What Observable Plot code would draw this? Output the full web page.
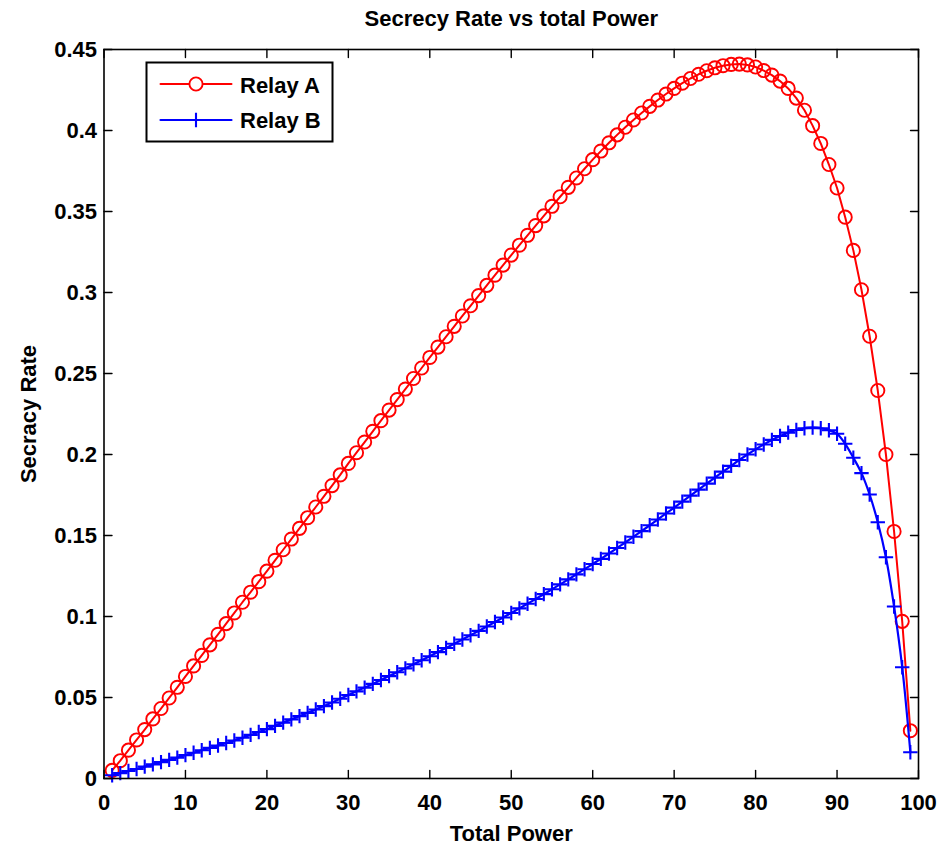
<!DOCTYPE html>
<html>
<head>
<meta charset="utf-8">
<script src="https://cdn.jsdelivr.net/npm/d3@7"></script>
<script src="https://cdn.jsdelivr.net/npm/@observablehq/plot@0.6"></script>
<style>
  html, body { margin: 0; padding: 0; background: #fff; }
  #chart { width: 943px; height: 846px; }
</style>
</head>
<body>
<div id="chart"></div>
<script>
const titleText = "Secrecy Rate vs total Power";
const xLabel = "Total Power";
const yLabel = "Secracy Rate";
const seriesNames = ["Relay A", "Relay B"];
const seriesColors = ["#ff0000", "#0000ff"];
const xDomain = [0, 100];
const yDomain = [0, 0.45];
const xTicks = [0, 10, 20, 30, 40, 50, 60, 70, 80, 90, 100];
const xTickLabels = ["0", "10", "20", "30", "40", "50", "60", "70", "80", "90", "100"];
const yTicks = [0, 0.05, 0.1, 0.15, 0.2, 0.25, 0.3, 0.35, 0.4, 0.45];
const yTickLabels = ["0", "0.05", "0.1", "0.15", "0.2", "0.25", "0.3", "0.35", "0.4", "0.45"];

const powerValues = [
  1,2,3,4,5,6,7,8,9,10,11,12,13,14,15,16,17,18,19,20,
  21,22,23,24,25,26,27,28,29,30,31,32,33,34,35,36,37,38,39,40,
  41,42,43,44,45,46,47,48,49,50,51,52,53,54,55,56,57,58,59,60,
  61,62,63,64,65,66,67,68,69,70,71,72,73,74,75,76,77,78,79,80,
  81,82,83,84,85,86,87,88,89,90,91,92,93,94,95,96,97,98,99
];

const relayA = [
  .0050,.0110,.0175,.0238,.0302,.0368,.0432,.0497,.0563,.0630,
  .0695,.0760,.0825,.0890,.0956,.1022,.1088,.1150,.1215,.1280,
  .1347,.1412,.1478,.1544,.1610,.1676,.1742,.1808,.1874,.1945,
  .2011,.2077,.2143,.2209,.2274,.2339,.2404,.2469,.2534,.2599,
  .2663,.2727,.2791,.2855,.2918,.2981,.3044,.3107,.3169,.3231,
  .3292,.3353,.3413,.3473,.3532,.3591,.3649,.3707,.3764,.3820,
  .3873,.3924,.3973,.4020,.4065,.4108,.4149,.4188,.4225,.4260,
  .4292,.4321,.4347,.4369,.4387,.4400,.4408,.4410,.4405,.4392,
  .4370,.4342,.4305,.4260,.4200,.4125,.4030,.3920,.3790,.3645,
  .3465,.3260,.3017,.2730,.2395,.2000,.1525,.0970,.0295
];

const relayB = [
  .0020,.0033,.0046,.0059,.0073,.0087,.0101,.0115,.0129,.0144,
  .0159,.0174,.0189,.0204,.0219,.0235,.0252,.0269,.0287,.0305,
  .0325,.0345,.0365,.0385,.0405,.0426,.0447,.0469,.0492,.0515,
  .0538,.0561,.0584,.0608,.0632,.0656,.0680,.0705,.0730,.0755,
  .0780,.0806,.0832,.0858,.0884,.0911,.0938,.0966,.0994,.1022,
  .1050,.1079,.1108,.1138,.1168,.1198,.1229,.1260,.1292,.1324,
  .1356,.1389,.1423,.1457,.1492,.1527,.1563,.1599,.1636,.1672,
  .1709,.1746,.1783,.1820,.1857,.1894,.1930,.1966,.2000,.2032,
  .2062,.2090,.2114,.2135,.2151,.2162,.2166,.2162,.2150,.2128,
  .2066,.1980,.1885,.1753,.1582,.1366,.1062,.0687,.0162
];

const dataA = powerValues.map((x, i) => ({x, y: relayA[i]}));
const dataB = powerValues.map((x, i) => ({x, y: relayB[i]}));

const lineShape = {draw(context, l) { context.moveTo(0, 0); context.lineTo(0, -l); }};
const plusSymbol = {draw(context, size) {
  const r = Math.sqrt(size / Math.PI);
  context.moveTo(-r, 0); context.lineTo(r, 0);
  context.moveTo(0, -r); context.lineTo(0, r);
}};

const font = "Liberation Sans, Arial, Helvetica, sans-serif";
const fs = 22;
const fw = "bold";
const tickLen = 8;

const chart = Plot.plot({
  width: 943,
  height: 846,
  marginLeft: 103.5,
  marginRight: 25,
  marginTop: 49,
  marginBottom: 68,
  style: {fontFamily: font, fontSize: fs + "px", background: "#fff", color: "#000", overflow: "visible"},
  x: {domain: xDomain, axis: null},
  y: {domain: yDomain, axis: null},
  marks: [
    // curves
    Plot.line(dataA, {x: "x", y: "y", stroke: seriesColors[0], strokeWidth: 2}),
    Plot.dot(dataA, {x: "x", y: "y", r: 6.6, stroke: seriesColors[0], strokeWidth: 1.9, fill: "none"}),
    Plot.line(dataB, {x: "x", y: "y", stroke: seriesColors[1], strokeWidth: 2.2, curve: "catmull-rom"}),
    Plot.dot(dataB, {x: "x", y: "y", symbol: plusSymbol, r: 7.2, stroke: seriesColors[1], strokeWidth: 2.1, fill: "none"}),
    // box
    Plot.frame({stroke: "#000", strokeWidth: 1.6}),
    // inward ticks
    Plot.vector(xTicks, {x: d => d, y: () => yDomain[0], length: tickLen, rotate: 0, anchor: "start", shape: lineShape, stroke: "#000", strokeWidth: 1.4}),
    Plot.vector(xTicks, {x: d => d, y: () => yDomain[1], length: tickLen, rotate: 180, anchor: "start", shape: lineShape, stroke: "#000", strokeWidth: 1.4}),
    Plot.vector(yTicks, {y: d => d, x: () => xDomain[0], length: tickLen, rotate: 90, anchor: "start", shape: lineShape, stroke: "#000", strokeWidth: 1.4}),
    Plot.vector(yTicks, {y: d => d, x: () => xDomain[1], length: tickLen, rotate: -90, anchor: "start", shape: lineShape, stroke: "#000", strokeWidth: 1.4}),
    // tick labels
    Plot.text(xTicks, {x: d => d, y: () => yDomain[0], text: (d, i) => xTickLabels[i], dy: 24, fontSize: fs, fontWeight: fw, fill: "#000"}),
    Plot.text(yTicks, {y: d => d, x: () => xDomain[0], text: (d, i) => yTickLabels[i], dx: -7, textAnchor: "end", fontSize: fs, fontWeight: fw, fill: "#000"}),
    // axis labels & title
    Plot.text([xLabel], {frameAnchor: "bottom", dy: 55, textAnchor: "middle", lineAnchor: "middle", fontSize: fs, fontWeight: fw, fill: "#000"}),
    Plot.text([yLabel], {frameAnchor: "left", dx: -75, rotate: -90, textAnchor: "middle", lineAnchor: "middle", fontSize: fs, fontWeight: fw, fill: "#000"}),
    Plot.text([titleText], {frameAnchor: "top", dy: -31, textAnchor: "middle", lineAnchor: "middle", fontSize: fs, fontWeight: fw, fill: "#000"}),
    // legend
    Plot.frame({insetLeft: 42.5, insetTop: 13, insetRight: 586, insetBottom: 637, stroke: "#000", strokeWidth: 2, fill: "#fff"}),
    Plot.vector([0], {frameAnchor: "top-left", dx: 92, dy: 34.5, length: 71, rotate: 90, anchor: "middle", shape: lineShape, stroke: seriesColors[0], strokeWidth: 2}),
    Plot.dot([0], {frameAnchor: "top-left", dx: 92, dy: 34.5, r: 6.6, stroke: seriesColors[0], strokeWidth: 1.9, fill: "#fff"}),
    Plot.vector([0], {frameAnchor: "top-left", dx: 92, dy: 70.5, length: 71, rotate: 90, anchor: "middle", shape: lineShape, stroke: seriesColors[1], strokeWidth: 2.2}),
    Plot.dot([0], {frameAnchor: "top-left", dx: 92, dy: 70.5, symbol: plusSymbol, r: 7.2, stroke: seriesColors[1], strokeWidth: 2.1, fill: "none"}),
    Plot.text([seriesNames[0]], {frameAnchor: "top-left", dx: 136, dy: 36.5, textAnchor: "start", lineAnchor: "middle", fontSize: fs, fontWeight: fw, fill: "#000"}),
    Plot.text([seriesNames[1]], {frameAnchor: "top-left", dx: 136, dy: 71.5, textAnchor: "start", lineAnchor: "middle", fontSize: fs, fontWeight: fw, fill: "#000"})
  ]
});
document.getElementById("chart").appendChild(chart);
</script>
</body>
</html>
